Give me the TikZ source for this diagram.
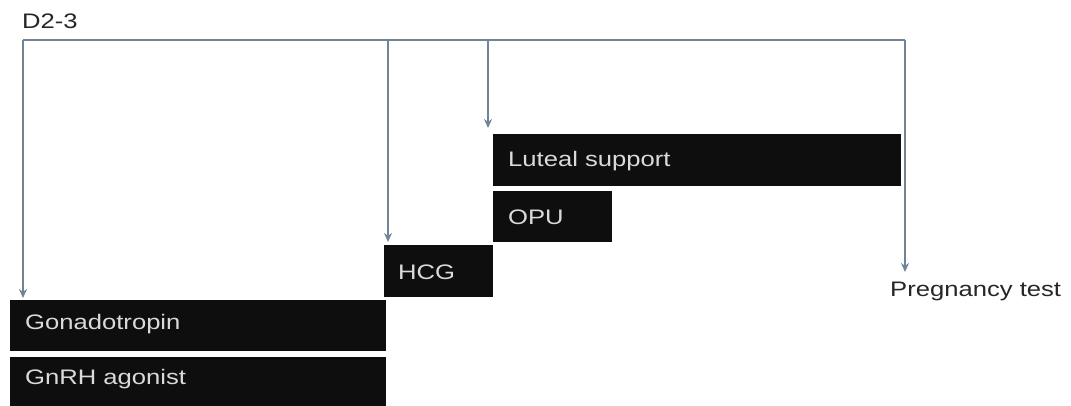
\documentclass[tikz,border=0pt]{standalone}
\usepackage{fontspec}
\setmainfont{Liberation Sans}
\newfontfamily\wide[FakeStretch=1.22]{Liberation Sans}
\usetikzlibrary{arrows.meta}
\definecolor{linec}{RGB}{112,132,150}
\definecolor{boxc}{RGB}{14,14,14}
\definecolor{txtc}{RGB}{218,218,218}
\tikzset{
  bar/.style={fill=boxc, draw=none},
  bartext/.style={anchor=west, text=txtc, font=\wide\fontsize{21}{23}\selectfont, inner sep=0pt},
  plain/.style={anchor=west, text=black!85, font=\wide\fontsize{21}{23}\selectfont, inner sep=0pt},
  conn/.style={draw=linec, line width=1.8pt},
  arr/.style={draw=linec, line width=1.6pt, -{Stealth[length=9pt,width=8pt]}}
}
\begin{document}
\begin{tikzpicture}[x=1pt,y=-1pt]
\useasboundingbox (0,0) rectangle (1071,406);
% bars
\path[bar] (10,300) rectangle (386,351);
\path[bar] (10,357) rectangle (386,406);
\path[bar] (384,245) rectangle (493,297);
\path[bar] (493,191) rectangle (612,242);
\path[bar] (493,134) rectangle (901,186);
\node[bartext] (gon) at (25,324) {Gonadotropin};
\node[bartext] (gnrh) at (25,379) {GnRH agonist};
\node[bartext] (hcg) at (398,272) {HCG};
\node[bartext] (opu) at (508,217) {OPU};
\node[bartext] (lut) at (508,161) {Luteal support};
\node[plain] (d23) at (22,21) {D2-3};
\node[plain] (preg) at (890,291) {Pregnancy test};
% connectors
\coordinate (t0) at (23,40);
\coordinate (t1) at (388,40);
\coordinate (t2) at (488,40);
\coordinate (t3) at (905,40);
\coordinate (a0) at (23,298);
\coordinate (a1) at (388,242);
\coordinate (a2) at (488,128);
\coordinate (a3) at (905,272);
\draw[conn] (t0) -- (t3);
\draw[arr] (t0) -- (a0);
\draw[arr] (t1) -- (a1);
\draw[arr] (t2) -- (a2);
\draw[arr] (t3) -- (a3);
\end{tikzpicture}
\end{document}
